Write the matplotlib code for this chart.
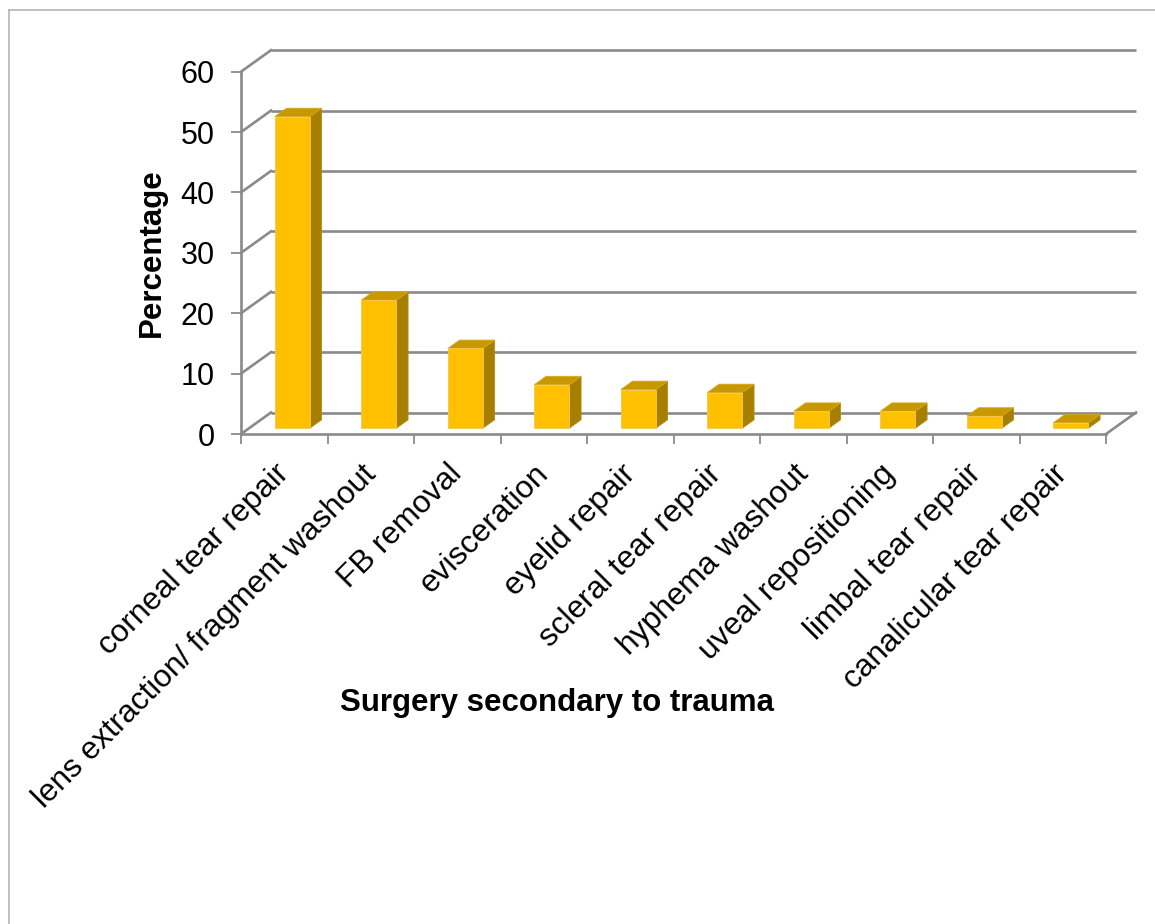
import numpy as np
import matplotlib
matplotlib.use("Agg")
import matplotlib.pyplot as plt
from matplotlib.patches import Polygon
from matplotlib.lines import Line2D

plt.rcParams['font.family'] = ['Liberation Sans', 'DejaVu Sans']

# ---- data ----
categories = [
    "corneal tear repair",
    "lens extraction/ fragment washout",
    "FB removal",
    "evisceration",
    "eyelid repair",
    "scleral tear repair",
    "hyphema washout",
    "uveal repositioning",
    "limbal tear repair",
    "canalicular tear repair",
]
percentages = [51.6, 21.2, 13.2, 7.2, 6.4, 5.9, 2.8, 2.8, 2.0, 0.9]
y_ticks = [0, 10, 20, 30, 40, 50, 60]
y_label = "Percentage"
x_label = "Surgery secondary to trauma"

# ---- styling ----
GRID = '#8a8a8a'
FRONT = '#FFC000'
TOP = '#C89800'
SIDE = '#A67F00'

W, H = 1155, 924
fig = plt.figure(figsize=(W / 100, H / 100), dpi=100)
fig.patch.set_facecolor('white')

# front plane of the 3-D box
left_px, right_px = 241, 1106
bottom_px, top_px = 434, 71.7
ax = fig.add_axes([left_px / W, 1 - bottom_px / H,
                   (right_px - left_px) / W, (bottom_px - top_px) / H])
n = len(categories)
ax.set_xlim(0, n)
ax.set_ylim(0, 60)
ax.set_facecolor('none')

# oblique depth offset (full depth of box) in data units
DX = 30 / ((right_px - left_px) / n)
DY = 21.5 / ((bottom_px - top_px) / 60)


def proj(x, y, d):
    return (x + d * DX, y + d * DY)


# back wall gridlines and left side-wall lines
for yv in y_ticks:
    x0, y0 = proj(0, yv, 1)
    x1, y1 = proj(n, yv, 1)
    ax.add_line(Line2D([x0, x1], [y0, y1], color=GRID, lw=1.9,
                       clip_on=False, zorder=1, solid_capstyle='butt'))
    ax.add_line(Line2D([0, x0], [yv, y0], color=GRID, lw=1.9,
                       clip_on=False, zorder=1))

# right floor edge
xr, yr = proj(n, 0, 1)
ax.add_line(Line2D([n, xr], [0, yr], color=GRID, lw=1.9, clip_on=False, zorder=1))

# bars as 3-D boxes
bw = 0.405
d0, d1 = 0.27, 0.66
for i, v in enumerate(percentages):
    xl = i + 0.5 - bw / 2
    xh = i + 0.5 + bw / 2
    f = [proj(xl, 0, d0), proj(xh, 0, d0), proj(xh, v, d0), proj(xl, v, d0)]
    s = [proj(xh, 0, d0), proj(xh, 0, d1), proj(xh, v, d1), proj(xh, v, d0)]
    t = [proj(xl, v, d0), proj(xh, v, d0), proj(xh, v, d1), proj(xl, v, d1)]
    ax.add_patch(Polygon(s, closed=True, facecolor=SIDE, edgecolor='#B88E10',
                         lw=0.6, clip_on=False, zorder=3))
    ax.add_patch(Polygon(t, closed=True, facecolor=TOP, edgecolor='#D4A820',
                         lw=0.6, clip_on=False, zorder=3))
    ax.add_patch(Polygon(f, closed=True, facecolor=FRONT, edgecolor='#F5C84A',
                         lw=0.6, clip_on=False, zorder=4))

# front axes lines
for side in ['top', 'right']:
    ax.spines[side].set_visible(False)
for side in ['left', 'bottom']:
    ax.spines[side].set_color(GRID)
    ax.spines[side].set_linewidth(1.9)
    ax.spines[side].set_zorder(5)

ax.set_yticks(y_ticks)
ax.set_yticklabels([str(v) for v in y_ticks])
ax.tick_params(axis='y', direction='out', length=7, width=1.3, color=GRID,
               labelsize=22, pad=12)

ax.set_xticks(np.arange(n + 1))
ax.set_xticklabels([])
ax.tick_params(axis='x', which='major', direction='out', length=7, width=1.3, color=GRID)
ax.set_xticks(np.arange(n) + 0.63, minor=True)
ax.set_xticklabels(categories, minor=True)
ax.tick_params(axis='x', which='minor', length=0, pad=18, labelsize=22.7)
for lbl in ax.get_xticklabels(minor=True):
    lbl.set_rotation(45)
    lbl.set_ha('right')
    lbl.set_va('top')

# axis titles
fig.text(152 / W, 1 - 253 / H, y_label, rotation=90, ha='center', va='center',
         fontsize=22.5, fontweight='bold')
fig.text(557 / W, 1 - 703 / H, x_label, ha='center', va='center',
         fontsize=22.5, fontweight='bold')

# outer chart border (left and top edges)
fig.add_artist(Line2D([9 / W, 9 / W], [0, 1 - 10 / H], color='#b5b5b5', lw=1.2,
                      transform=fig.transFigure))
fig.add_artist(Line2D([9 / W, 1], [1 - 10 / H, 1 - 10 / H], color='#b5b5b5', lw=1.2,
                      transform=fig.transFigure))

fig.savefig('out.png', dpi=100, facecolor='white')
